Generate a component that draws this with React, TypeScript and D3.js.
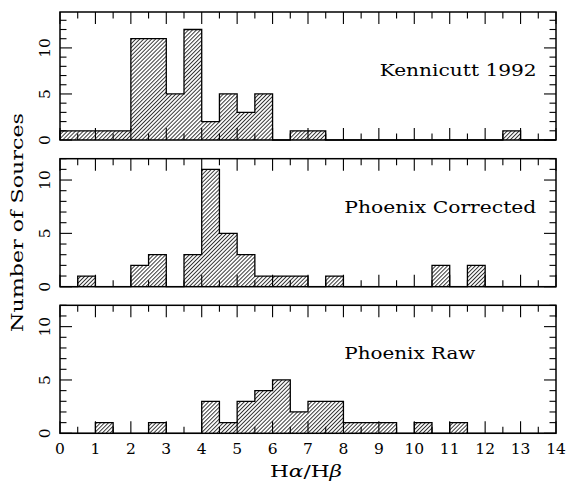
import React from "react";
import * as d3 from "d3";

// bin edges: 0 .. 14 step 0.5 (28 bins)
const binWidth = 0.5;
const xMin = 0;
const xMax = 14;
const xTickValues = [0, 1, 2, 3, 4, 5, 6, 7, 8, 9, 10, 11, 12, 13, 14];
const yTickLabels = [0, 5, 10];

const panelNames = ["Kennicutt 1992", "Phoenix Corrected", "Phoenix Raw"];

const kennicutt = [1, 1, 1, 1, 11, 11, 5, 12, 2, 5, 3, 5, 0, 1, 1, 0, 0, 0, 0, 0, 0, 0, 0, 0, 0, 1, 0, 0];
const phoenixCorrected = [0, 1, 0, 0, 2, 3, 0, 3, 11, 5, 3, 1, 1, 1, 0, 1, 0, 0, 0, 0, 0, 2, 0, 2, 0, 0, 0, 0];
const phoenixRaw = [0, 0, 1, 0, 0, 1, 0, 0, 3, 1, 3, 4, 5, 2, 3, 3, 1, 1, 1, 0, 1, 0, 1, 0, 0, 0, 0, 0];

const yMaxes = [13.9, 12, 12];

const W = 569;
const H = 489;
const left = 60;
const right = 556;
const panelTops = [12, 158.7, 305.3];
const panelH = 128;

const labelPos = [
  { x: 536.7, y: 76, anchor: "end", len: 157 },
  { x: 344.3, y: 213.3, anchor: "start", len: 192 },
  { x: 344.3, y: 359.3, anchor: "start", len: 131 },
];

const FONT = "'DejaVu Serif', serif";

function Panel({ idx, counts }: { idx: number; counts: number[] }) {
  const top = panelTops[idx];
  const bottom = top + panelH;
  const x = d3.scaleLinear().domain([xMin, xMax]).range([left, right]);
  const y = d3.scaleLinear().domain([0, yMaxes[idx]]).range([bottom, top]);

  const pts: [number, number][] = [[xMin, 0]];
  counts.forEach((c, i) => {
    const x0 = xMin + i * binWidth;
    pts.push([x0, c]);
    pts.push([x0 + binWidth, c]);
  });
  pts.push([xMax, 0]);
  const line = d3
    .line<[number, number]>()
    .x((d) => x(d[0]))
    .y((d) => y(d[1]));
  const path = line(pts) || "";

  const xMinor = d3.range(xMin + 0.5, xMax, 1);
  const yMajor = yTickLabels;
  const yMinorAll = d3.range(1, Math.floor(yMaxes[idx]) + 1).filter((v) => v % 5 !== 0);
  const majL = 12;
  const minL = 6.5;
  const lab = labelPos[idx];

  return (
    <g>
      <path d={path + "Z"} fill="url(#hatch)" stroke="none" />
      <path d={path} fill="none" stroke="#000" strokeWidth={1.3} />
      {/* ticks */}
      <g stroke="#000" strokeWidth={1.1}>
        {xTickValues.map((v) => (
          <g key={"xm" + v}>
            <line x1={x(v)} x2={x(v)} y1={bottom} y2={bottom - majL} />
            <line x1={x(v)} x2={x(v)} y1={top} y2={top + majL} />
          </g>
        ))}
        {xMinor.map((v) => (
          <g key={"xn" + v}>
            <line x1={x(v)} x2={x(v)} y1={bottom} y2={bottom - minL} />
            <line x1={x(v)} x2={x(v)} y1={top} y2={top + minL} />
          </g>
        ))}
        {yMajor.map((v) => (
          <g key={"ym" + v}>
            <line x1={left} x2={left + majL} y1={y(v)} y2={y(v)} />
            <line x1={right} x2={right - majL} y1={y(v)} y2={y(v)} />
          </g>
        ))}
        {yMinorAll.map((v) => (
          <g key={"yn" + v}>
            <line x1={left} x2={left + minL} y1={y(v)} y2={y(v)} />
            <line x1={right} x2={right - minL} y1={y(v)} y2={y(v)} />
          </g>
        ))}
      </g>
      <rect x={left} y={top} width={right - left} height={panelH} fill="none" stroke="#000" strokeWidth={1.5} />
      {/* y tick labels */}
      {yMajor.map((v) => (
        <text
          key={"yl" + v}
          transform={`translate(49.5,${y(v)}) rotate(-90)`}
          textAnchor="middle"
          fontFamily={FONT}
          fontSize={15.5}
          fill="#000"
        >
          {v}
        </text>
      ))}
      <text
        x={lab.x}
        y={lab.y}
        textAnchor={lab.anchor as any}
        fontFamily={FONT}
        fontSize={16.5}
        textLength={lab.len}
        lengthAdjust="spacingAndGlyphs"
        fill="#000"
      >
        {panelNames[idx]}
      </text>
      {idx === 2 &&
        xTickValues.map((v) => (
          <text key={"xl" + v} x={x(v)} y={453.5} textAnchor="middle" fontFamily={FONT} fontSize={15.5} fill="#000">
            {v}
          </text>
        ))}
    </g>
  );
}

export default function App() {
  const series = [kennicutt, phoenixCorrected, phoenixRaw];
  return (
    <svg
      width={W}
      height={H}
      viewBox={`0 0 ${W} ${H}`}
      style={{ position: "absolute", left: 0, top: 0, background: "#fff" }}
    >
      <defs>
        <pattern id="hatch" patternUnits="userSpaceOnUse" width={2.8} height={10} patternTransform="rotate(45)">
          <line x1={0.5} y1={0} x2={0.5} y2={10} stroke="#000" strokeWidth={0.8} />
        </pattern>
      </defs>
      <rect x={0} y={0} width={W} height={H} fill="#fff" />
      {series.map((s, i) => (
        <Panel key={i} idx={i} counts={s} />
      ))}
      <text
        x={306}
        y={477}
        textAnchor="middle"
        fontFamily={FONT}
        fontSize={16.5}
        textLength={72}
        lengthAdjust="spacingAndGlyphs"
        fill="#000"
      >
        H<tspan fontStyle="italic">α</tspan>/H<tspan fontStyle="italic">β</tspan>
      </text>
      <text
        transform="translate(23,222.5) rotate(-90)"
        textAnchor="middle"
        fontFamily={FONT}
        fontSize={16.5}
        textLength={219}
        lengthAdjust="spacingAndGlyphs"
        fill="#000"
      >
        Number of Sources
      </text>
    </svg>
  );
}
